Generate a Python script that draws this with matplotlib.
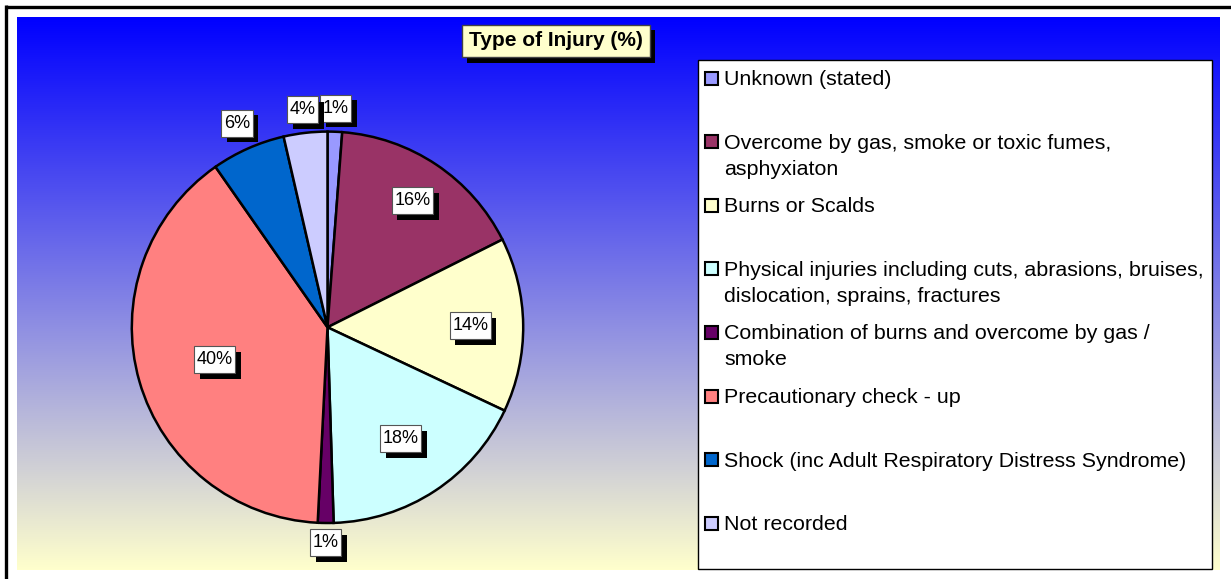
import matplotlib
matplotlib.use("Agg")
import matplotlib.pyplot as plt
import matplotlib.patheffects as pe
from matplotlib.patches import Rectangle
from matplotlib.transforms import IdentityTransform
import numpy as np

plt.rcParams['font.family'] = ['Liberation Sans', 'DejaVu Sans']

# data (shares of injuries, %)
categories = [
    "Unknown (stated)",
    "Overcome by gas, smoke or toxic fumes,\nasphyxiaton",
    "Burns or Scalds",
    "Physical injuries including cuts, abrasions, bruises,\ndislocation, sprains, fractures",
    "Combination of burns and overcome by gas /\nsmoke",
    "Precautionary check - up",
    "Shock (inc Adult Respiratory Distress Syndrome)",
    "Not recorded",
]
shares = [1.2, 16.4, 14.4, 17.5, 1.3, 39.5, 6.1, 3.6]
colors = ["#9999FF", "#993366", "#FFFFCC", "#CCFFFF",
          "#660066", "#FF8080", "#0066CC", "#CCCCFF"]
# radial distance of each data label (fraction of radius)
label_dist = [1.12, 0.78, 0.73, 0.68, 1.10, 0.60, 1.14, 1.12]

W, H = 1231, 579
fig = plt.figure(figsize=(W / 100, H / 100), dpi=100)

# background layer in pixel coordinates
bg = fig.add_axes([0, 0, 1, 1])
bg.set_xlim(0, W)
bg.set_ylim(H, 0)
bg.axis('off')

top = np.array([0, 0, 255]) / 255
bottom = np.array([255, 255, 204]) / 255
t = np.linspace(0, 1, 256)[:, None, None]
grad = top * (1 - t) + bottom * t
bg.imshow(grad, extent=(17, 1220, 570, 17), aspect='auto', zorder=0)

# outer frame lines
bg.plot([6, W], [6.5, 6.5], color='black', lw=2.4, solid_capstyle='butt')
bg.plot([6, 6], [5.3, H], color='black', lw=2.4, solid_capstyle='butt')

# title box
title = bg.text(556, 41, "Type of Injury (%)", fontsize=15, fontweight='bold',
                ha='center', va='center', zorder=5,
                bbox=dict(boxstyle='square,pad=0.33', facecolor='#FFFFCC',
                          edgecolor='#444444', linewidth=1))
title.get_bbox_patch().set_path_effects(
    [pe.withSimplePatchShadow(offset=(3.8, -3.8), shadow_rgbFace='black', alpha=1)])

# legend box
bg.add_patch(Rectangle((698, 60), 514, 509, facecolor='white',
                       edgecolor='black', linewidth=1, zorder=2))
for i, (name, col) in enumerate(zip(categories, colors)):
    y0 = 78 + 63.6 * i
    bg.add_patch(Rectangle((705, y0 - 6.5), 13, 13, facecolor=col,
                           edgecolor='black', linewidth=1.5, zorder=3))
    for k, line in enumerate(name.split("\n")):
        bg.text(724, y0 + 7 + 26 * k, line, fontsize=15.4, ha='left',
                va='baseline', zorder=4)

# pie
cx, cy, r = 327.5, 327.3, 195.7
ax = fig.add_axes([(cx - r) / W, (H - cy - r) / H, 2 * r / W, 2 * r / H])
wedges, _ = ax.pie(shares, colors=colors, startangle=90, counterclock=False,
                   wedgeprops=dict(edgecolor='black', linewidth=1.8))
for w in wedges:
    w.set_clip_on(False)
ax.set_xlim(-1, 1)
ax.set_ylim(-1, 1)
ax.axis('off')

label_texts = []
for w, val, d in zip(wedges, shares, label_dist):
    mid = np.deg2rad((w.theta1 + w.theta2) / 2)
    txt = ax.text(d * np.cos(mid), d * np.sin(mid), f"{val:.0f}%",
                  fontsize=13, ha='center', va='center', zorder=7)
    label_texts.append(txt)

# white label boxes with a black drop shadow, sized from the rendered text
fig.canvas.draw()
renderer = fig.canvas.get_renderer()
for txt in label_texts:
    bb = txt.get_window_extent(renderer)
    box = Rectangle((bb.x0 - 2.5, bb.y0 - 5), bb.width + 5, bb.height + 10,
                    transform=IdentityTransform(), facecolor='white',
                    edgecolor='#555555', linewidth=0.8, zorder=6, clip_on=False)
    box.set_path_effects(
        [pe.withSimplePatchShadow(offset=(4, -4), shadow_rgbFace='black', alpha=1)])
    ax.add_artist(box)

fig.savefig("out.png", dpi=100)
